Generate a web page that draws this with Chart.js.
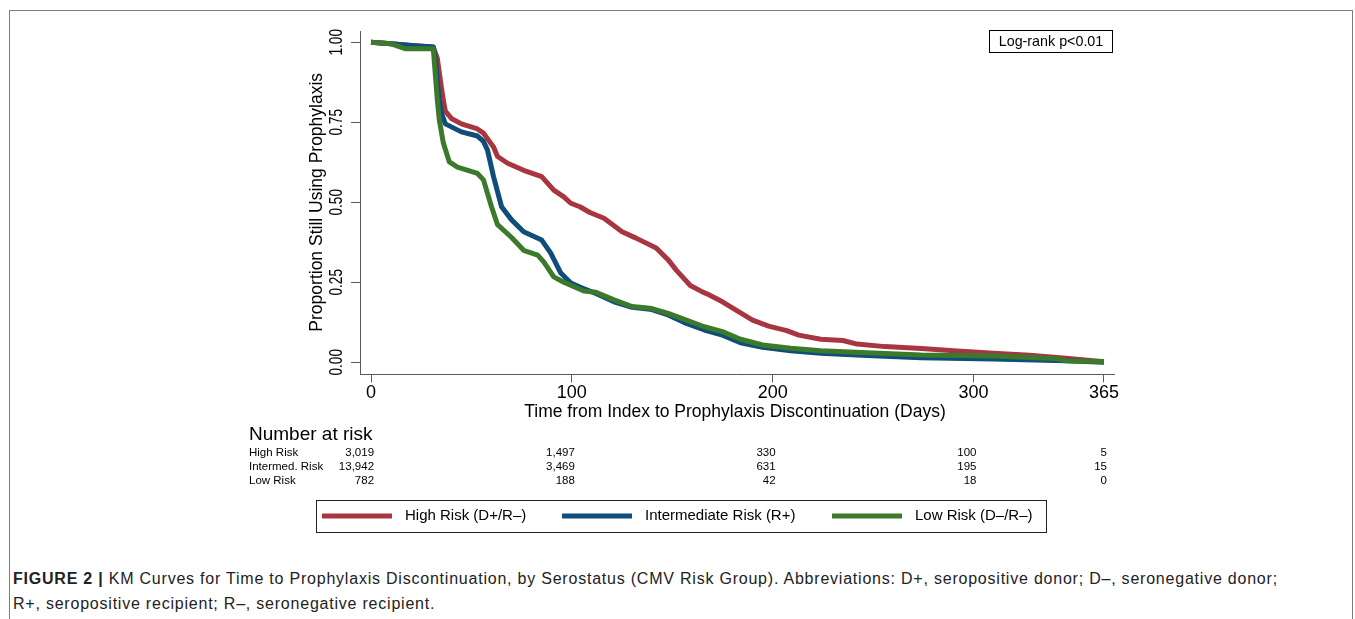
<!DOCTYPE html>
<html>
<head>
<meta charset="utf-8">
<script src="https://cdn.jsdelivr.net/npm/chart.js@4.4.1/dist/chart.umd.min.js"></script>
<style>
    html, body { margin: 0; padding: 0; background: #fff; }
    body { width: 1355px; height: 619px; position: relative; overflow: hidden; font-family: "Liberation Sans", Arial, sans-serif; }
    #frame { position: absolute; left: 9px; top: 10px; width: 1342px; height: 700px; border: 1px solid #7d7d7d; border-bottom: none; }
    #chart { position: absolute; left: 0; top: 0; }
    #caption { position: absolute; left: 13px; top: 566px; width: 1335px; font-size: 16px; letter-spacing: 0.78px; line-height: 25px; color: #222; white-space: nowrap; }
</style>
</head>
<body>
<div id="frame"></div>
<canvas id="chart" width="1355" height="545"></canvas>
<div id="caption"><b>FIGURE 2 |</b> KM Curves for Time to Prophylaxis Discontinuation, by Serostatus (CMV Risk Group). Abbreviations: D+, seropositive donor; D–, seronegative donor;<br>R+, seropositive recipient; R–, seronegative recipient.</div>
<script>
// --- datos ---
const xTicks = [0, 100, 200, 300, 365];
const yTicks = [0, 0.25, 0.5, 0.75, 1];
const yTickLabels = ['0.00', '0.25', '0.50', '0.75', '1.00'];

const highDays = [0, 10, 20, 31, 33, 35, 36, 37, 40, 45, 53, 56, 61, 63, 68, 76, 85, 91, 96, 99.5, 104, 109, 116, 125, 132, 142, 148, 152, 159, 165, 168, 175, 183, 190, 198, 207, 213, 224, 235, 242, 256, 274, 292, 310, 328, 346, 365];
const highSurv = [1.0, 0.995, 0.99, 0.985, 0.95, 0.86, 0.82, 0.785, 0.762, 0.745, 0.729, 0.716, 0.673, 0.643, 0.622, 0.60, 0.58, 0.538, 0.517, 0.497, 0.486, 0.468, 0.45, 0.408, 0.388, 0.357, 0.32, 0.288, 0.24, 0.22, 0.212, 0.189, 0.158, 0.132, 0.113, 0.099, 0.085, 0.072, 0.068, 0.057, 0.049, 0.043, 0.035, 0.028, 0.022, 0.0125, 0.002];

const interDays = [0, 10, 20, 31, 32, 33, 34, 35, 37, 45, 53, 56, 58, 61, 65, 70, 76, 85, 89.5, 94.5, 99.5, 104, 112, 121, 130, 139, 148, 156, 166, 175, 184, 195, 209, 224, 247, 274, 310, 346, 365];
const interSurv = [1.0, 0.995, 0.99, 0.985, 0.95, 0.88, 0.82, 0.78, 0.745, 0.72, 0.707, 0.69, 0.663, 0.58, 0.486, 0.445, 0.408, 0.382, 0.341, 0.279, 0.248, 0.235, 0.215, 0.189, 0.172, 0.166, 0.148, 0.124, 0.101, 0.085, 0.061, 0.047, 0.036, 0.028, 0.021, 0.014, 0.010, 0.005, 0.0];

const lowDays = [0, 10, 17, 31, 32, 33, 34, 36, 39, 43, 53, 56, 60, 63, 70, 76, 83, 86, 91, 96, 106, 112, 121, 130, 139, 148, 157, 166, 175, 184, 195, 209, 224, 247, 274, 310, 341, 346, 365];
const lowSurv = [1.0, 0.995, 0.98, 0.98, 0.9, 0.82, 0.757, 0.685, 0.626, 0.61, 0.59, 0.57, 0.486, 0.43, 0.39, 0.35, 0.335, 0.314, 0.267, 0.25, 0.223, 0.219, 0.195, 0.174, 0.169, 0.153, 0.132, 0.111, 0.096, 0.072, 0.054, 0.044, 0.036, 0.030, 0.023, 0.020, 0.012, 0.005, 0.002];

// Número en riesgo
const riskTimes = [0, 100, 200, 300, 365];
const riskGroups = ['High Risk', 'Intermed. Risk', 'Low Risk'];
const riskHigh = [3019, 1497, 330, 100, 5];
const riskInter = [13942, 3469, 631, 195, 15];
const riskLow = [782, 188, 42, 18, 0];

const toPoints = (days, surv) => days.map((d, i) => ({ x: d, y: surv[i] }));

// Dibuja etiquetas, tabla de riesgo, leyenda y caja del log-rank
const overlayPlugin = {
    id: 'overlay',
    afterDraw(chart) {
        const { ctx, scales: { x, y } } = chart;
        ctx.save();
        ctx.fillStyle = '#000';

        // etiquetas del eje Y (giradas)
        ctx.font = '18px "Liberation Sans", Arial, sans-serif';
        ctx.textAlign = 'center';
        ctx.textBaseline = 'middle';
        yTicks.forEach((v, i) => {
            ctx.save();
            ctx.translate(337, y.getPixelForValue(v));
            ctx.rotate(-Math.PI / 2);
            ctx.scale(0.76, 1);
            ctx.fillText(yTickLabels[i], 0, 0);
            ctx.restore();
        });

        // título eje Y
        ctx.save();
        ctx.font = '17.5px "Liberation Sans", Arial, sans-serif';
        ctx.translate(317, y.getPixelForValue(0.5));
        ctx.rotate(-Math.PI / 2);
        ctx.fillText('Proportion Still Using Prophylaxis', 0, 0);
        ctx.restore();

        // etiquetas eje X
        ctx.font = '18px "Liberation Sans", Arial, sans-serif';
        xTicks.forEach(v => ctx.fillText(String(v), x.getPixelForValue(v), 393));

        // título eje X
        ctx.font = '17.5px "Liberation Sans", Arial, sans-serif';
        ctx.fillText('Time from Index to Prophylaxis Discontinuation (Days)', 735, 412);

        // tabla de número en riesgo
        ctx.textAlign = 'left';
        ctx.font = '19px "Liberation Sans", Arial, sans-serif';
        ctx.fillText('Number at risk', 249, 435);
        const rows = [riskHigh, riskInter, riskLow];
        const rowY = [453, 467, 481];
        ctx.font = '11.5px "Liberation Sans", Arial, sans-serif';
        rows.forEach((row, r) => {
            ctx.textAlign = 'left';
            ctx.fillText(riskGroups[r], 249, rowY[r]);
            ctx.textAlign = 'right';
            row.forEach((n, i) => {
                ctx.fillText(n.toLocaleString('en-US'), x.getPixelForValue(riskTimes[i]) + 3, rowY[r]);
            });
        });

        // leyenda
        ctx.strokeStyle = '#222';
        ctx.lineWidth = 1;
        ctx.strokeRect(316.5, 500.5, 730, 32);
        const legX = [322, 562, 832];
        ctx.font = '15px "Liberation Sans", Arial, sans-serif';
        ctx.textAlign = 'left';
        chart.data.datasets.forEach((ds, i) => {
            ctx.strokeStyle = ds.borderColor;
            ctx.lineWidth = 5;
            ctx.beginPath();
            ctx.moveTo(legX[i], 516);
            ctx.lineTo(legX[i] + 70, 516);
            ctx.stroke();
            ctx.fillText(ds.label, legX[i] + 83, 516);
        });

        // caja log-rank
        ctx.strokeStyle = '#000';
        ctx.lineWidth = 1;
        ctx.strokeRect(989.5, 30.5, 123, 22);
        ctx.font = '14.3px "Liberation Sans", Arial, sans-serif';
        ctx.textAlign = 'center';
        ctx.fillText('Log-rank p<0.01', 1051, 42);

        ctx.restore();
    }
};

const axisGrey = '#5a5a5a';

new Chart(document.getElementById('chart'), {
    type: 'line',
    data: {
        datasets: [
            { label: 'High Risk (D+/R\u2013)', data: toPoints(highDays, highSurv), borderColor: '#a83640', order: 3 },
            { label: 'Intermediate Risk (R+)', data: toPoints(interDays, interSurv), borderColor: '#0f4d7a', order: 2 },
            { label: 'Low Risk (D\u2013/R\u2013)', data: toPoints(lowDays, lowSurv), borderColor: '#3c7a2b', order: 1 }
        ]
    },
    options: {
        responsive: false,
        animation: false,
        layout: { padding: { left: 351, top: 31.7, right: 241, bottom: 545 - 374.3 - 8 } },
        elements: {
            line: { borderWidth: 5, tension: 0, borderJoinStyle: 'round', fill: false },
            point: { radius: 0, hoverRadius: 0 }
        },
        plugins: {
            legend: { display: false },
            tooltip: { enabled: false }
        },
        scales: {
            x: {
                type: 'linear',
                min: -5.5,
                max: 370,
                ticks: { display: false },
                grid: { drawOnChartArea: false, color: axisGrey, tickLength: 8 },
                border: { color: axisGrey },
                afterBuildTicks: s => { s.ticks = xTicks.map(v => ({ value: v })); }
            },
            y: {
                type: 'linear',
                min: -0.0375,
                max: 1.033,
                ticks: { display: false },
                grid: { drawOnChartArea: false, color: axisGrey, tickLength: 9 },
                border: { color: axisGrey },
                afterBuildTicks: s => { s.ticks = yTicks.map(v => ({ value: v })); }
            }
        }
    },
    plugins: [overlayPlugin]
});
</script>
</body>
</html>
